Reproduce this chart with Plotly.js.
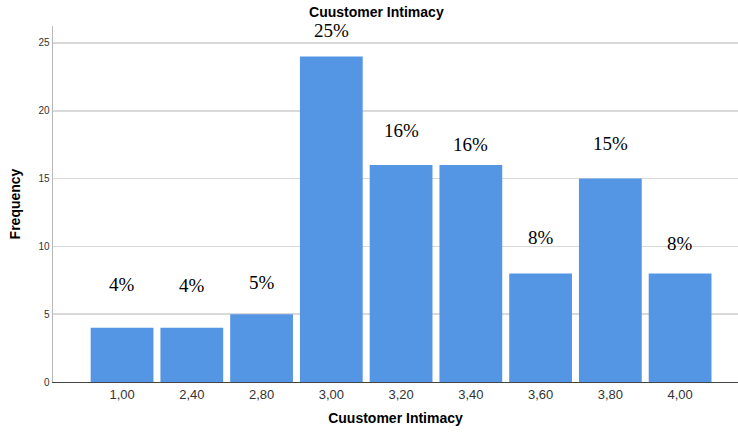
<!DOCTYPE html>
<html>
<head>
<meta charset="utf-8">
<script src="https://cdn.plot.ly/plotly-3.0.1.min.js"></script>
<style>
  html, body { margin: 0; padding: 0; background: #fff; }
  #chart { width: 738px; height: 435px; }
</style>
</head>
<body>
<div id="chart"></div>
<script>
// Score categories and their frequencies
const categories = ['1,00', '2,40', '2,80', '3,00', '3,20', '3,40', '3,60', '3,80', '4,00'];
const frequency = [4, 4, 5, 24, 16, 16, 8, 15, 8];
const percentLabels = ['4%', '4%', '5%', '25%', '16%', '16%', '8%', '15%', '8%'];

// vertical offset (px) of each percentage label above its bar
const labelShift = [31, 30, 19, 14, 22, 8, 24, 23, 18];

const trace = {
  type: 'bar',
  x: categories,
  y: frequency,
  marker: { color: '#5596e4', line: { width: 0 } },
  hoverinfo: 'x+y'
};

const annotations = categories.map((c, i) => ({
  x: c,
  y: frequency[i],
  xref: 'x',
  yref: 'y',
  text: percentLabels[i],
  showarrow: false,
  yanchor: 'bottom',
  yshift: labelShift[i],
  font: { family: 'Liberation Serif, Times New Roman, serif', size: 19, color: '#000' }
}));

const layout = {
  width: 738,
  height: 435,
  margin: { l: 53, r: 0, t: 26, b: 53 },
  paper_bgcolor: '#ffffff',
  plot_bgcolor: '#ffffff',
  bargap: 0.1,
  showlegend: false,
  title: {
    text: '<b>Cuustomer Intimacy</b>',
    x: 0.51,
    xref: 'container',
    xanchor: 'center',
    y: 0.973,
    yref: 'container',
    yanchor: 'middle',
    font: { family: 'Liberation Sans, Arial, sans-serif', size: 14, color: '#000' }
  },
  xaxis: {
    type: 'category',
    range: [-0.99, 8.83],
    showgrid: false,
    showline: true,
    linecolor: '#444',
    linewidth: 1,
    ticks: '',
    tickfont: { family: 'Liberation Sans, Arial, sans-serif', size: 13, color: '#333' },
    title: {
      text: '<b>Cuustomer Intimacy</b>',
      standoff: 12,
      font: { family: 'Liberation Sans, Arial, sans-serif', size: 14, color: '#000' }
    },
    zeroline: false
  },
  yaxis: {
    range: [0, 26.25],
    tickvals: [0, 5, 10, 15, 20, 25],
    showgrid: true,
    gridcolor: '#d9d9d9',
    gridwidth: 1.5,
    showline: true,
    linecolor: '#b8b8b8',
    linewidth: 1.5,
    ticks: '',
    tickfont: { family: 'Liberation Sans, Arial, sans-serif', size: 10, color: '#333' },
    title: {
      text: '<b>Frequency</b>',
      standoff: 14,
      font: { family: 'Liberation Sans, Arial, sans-serif', size: 14, color: '#000' }
    },
    zeroline: false
  },
  annotations: annotations
};

Plotly.newPlot('chart', [trace], layout, { displayModeBar: false, staticPlot: true });
</script>
</body>
</html>
